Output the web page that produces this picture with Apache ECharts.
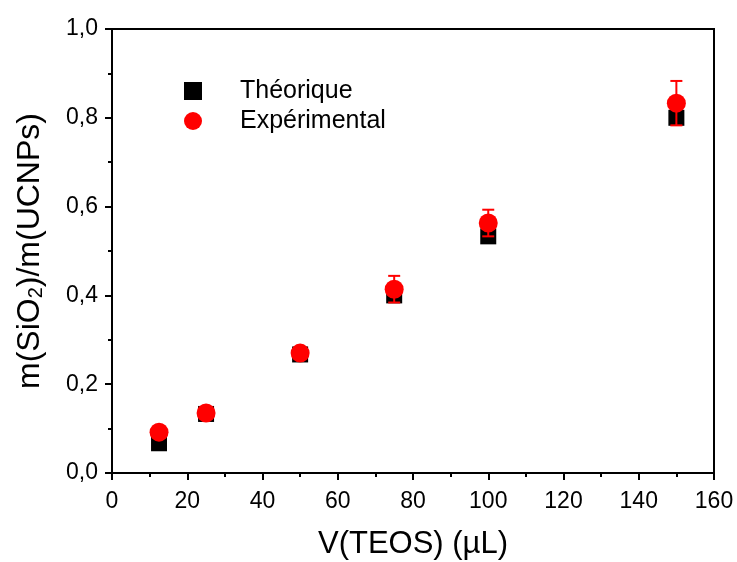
<!DOCTYPE html>
<html>
<head>
<meta charset="utf-8">
<script src="https://cdn.jsdelivr.net/npm/echarts@6/dist/echarts.min.js"></script>
<style>
  html, body { margin: 0; padding: 0; background: #fff; }
  #chart { width: 737px; height: 562px; }
</style>
</head>
<body>
<div id="chart"></div>
<script>
// volumes de TEOS (µL)
let volumes = [12.5, 25, 50, 75, 100, 150];
let theorique = [0.067, 0.133, 0.267, 0.4, 0.533, 0.8];
let experimental = [0.092, 0.135, 0.27, 0.414, 0.563, 0.833];
let erreurs = [0.008, 0.008, 0.008, 0.03, 0.03, 0.05];

let theoData = volumes.map(function (v, i) { return [v, theorique[i]]; });
let expData = volumes.map(function (v, i) { return [v, experimental[i]]; });
let errData = volumes.map(function (v, i) {
  return [v, experimental[i] - erreurs[i], experimental[i] + erreurs[i]];
});

let fontFam = 'Liberation Sans, Arial, sans-serif';

let option = {
  animation: false,
  backgroundColor: '#fff',
  grid: { left: 112, right: 23, top: 29, bottom: 89, containLabel: false, outerBoundsMode: 'none' },
  legend: {
    orient: 'vertical',
    left: 179,
    top: 73,
    itemGap: 4,
    itemWidth: 18,
    itemHeight: 18,
    textStyle: { fontFamily: fontFam, fontSize: 25, lineHeight: 26, color: '#000', padding: [0, 0, 0, 33] },
    data: [
      { name: 'Théorique', icon: 'rect', itemStyle: { color: '#000' } },
      { name: 'Expérimental', icon: 'circle', itemStyle: { color: '#ff0000' } }
    ]
  },
  xAxis: {
    type: 'value',
    min: 0, max: 160, interval: 20,
    name: 'V(TEOS) (µL)',
    nameLocation: 'middle',
    nameGap: 56,
    nameTextStyle: { fontFamily: fontFam, fontSize: 31, color: '#000' },
    axisLine: { show: true, onZero: false, lineStyle: { color: '#000', width: 2 } },
    axisTick: { show: true, inside: false, length: 7, lineStyle: { color: '#000', width: 2 } },
    minorTick: { show: true, splitNumber: 2, length: 4, lineStyle: { color: '#000', width: 2 } },
    axisLabel: { fontFamily: fontFam, fontSize: 23, color: '#000', margin: 17 },
    splitLine: { show: false }
  },
  yAxis: {
    type: 'value',
    min: 0, max: 1, interval: 0.2,
    name: 'm(SiO{sub|2})/m(UCNPs)',
    nameLocation: 'middle',
    nameRotate: 90,
    nameGap: 66,
    nameTextStyle: {
      fontFamily: fontFam, fontSize: 32, color: '#000',
      rich: { sub: { fontFamily: fontFam, fontSize: 20, color: '#000', verticalAlign: 'bottom', padding: [12, 0, 0, 0] } }
    },
    axisLine: { show: true, onZero: false, lineStyle: { color: '#000', width: 2 } },
    axisTick: { show: true, inside: false, length: 7, lineStyle: { color: '#000', width: 2 } },
    minorTick: { show: true, splitNumber: 2, length: 4, lineStyle: { color: '#000', width: 2 } },
    axisLabel: {
      fontFamily: fontFam, fontSize: 23, color: '#000', margin: 14,
      formatter: function (v) { return v.toFixed(1).replace('.', ','); }
    },
    splitLine: { show: false }
  },
  series: [
    {
      name: 'Théorique',
      type: 'scatter',
      symbol: 'rect',
      symbolSize: 16,
      itemStyle: { color: '#000', opacity: 1 },
      data: theoData,
      z: 2
    },
    {
      name: 'barres',
      type: 'custom',
      itemStyle: { color: '#ff0000' },
      renderItem: function (params, api) {
        let x = api.value(0);
        let lo = api.coord([x, api.value(1)]);
        let hi = api.coord([x, api.value(2)]);
        let cap = 6;
        let style = { stroke: '#ff0000', lineWidth: 2 };
        return {
          type: 'group',
          children: [
            { type: 'line', shape: { x1: lo[0], y1: lo[1], x2: hi[0], y2: hi[1] }, style: style },
            { type: 'line', shape: { x1: lo[0] - cap, y1: lo[1], x2: lo[0] + cap, y2: lo[1] }, style: style },
            { type: 'line', shape: { x1: hi[0] - cap, y1: hi[1], x2: hi[0] + cap, y2: hi[1] }, style: style }
          ]
        };
      },
      encode: { x: 0, y: [1, 2] },
      data: errData,
      z: 3
    },
    {
      name: 'Expérimental',
      type: 'scatter',
      symbol: 'circle',
      symbolSize: 19,
      itemStyle: { color: '#ff0000', opacity: 1 },
      data: expData,
      z: 4
    }
  ],
  graphic: [
    {
      type: 'rect',
      shape: { x: 112, y: 29, width: 602, height: 444 },
      style: { fill: 'none', stroke: '#000', lineWidth: 2 },
      silent: true,
      z: 1
    }
  ]
};

let chart = echarts.init(document.getElementById('chart'));
chart.setOption(option);
</script>
</body>
</html>
